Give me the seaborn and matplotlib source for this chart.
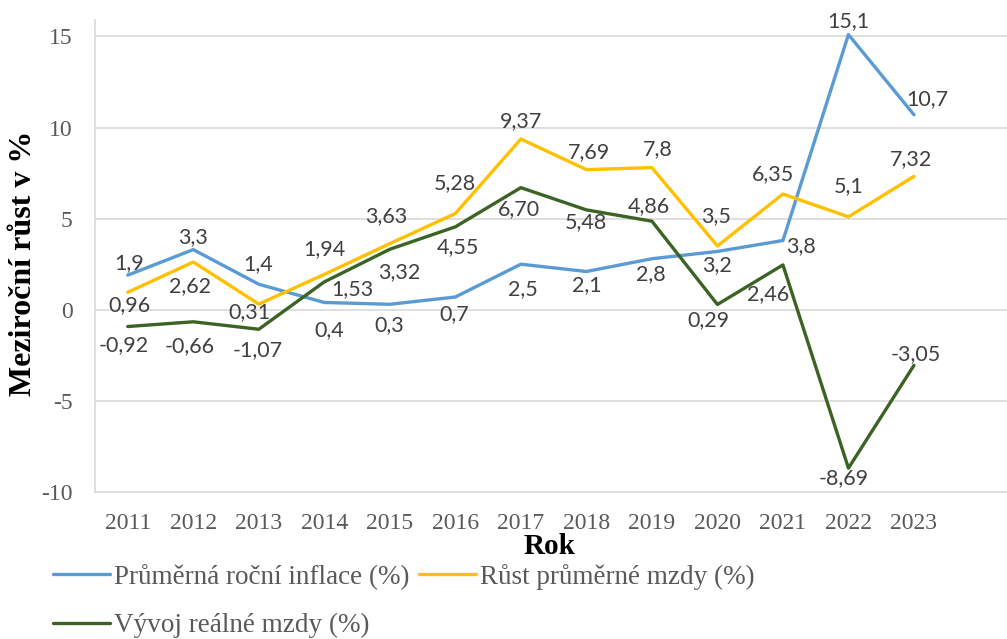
import matplotlib
matplotlib.use("Agg")
import matplotlib.pyplot as plt
import seaborn as sns

# data
years = [2011, 2012, 2013, 2014, 2015, 2016, 2017, 2018, 2019, 2020, 2021, 2022, 2023]
inflace = [1.9, 3.3, 1.4, 0.4, 0.3, 0.7, 2.5, 2.1, 2.8, 3.2, 3.8, 15.1, 10.7]
rust_mzdy = [0.96, 2.62, 0.31, 1.94, 3.63, 5.28, 9.37, 7.69, 7.8, 3.5, 6.35, 5.1, 7.32]
realna_mzda = [-0.92, -0.66, -1.07, 1.53, 3.32, 4.55, 6.70, 5.48, 4.86, 0.29, 2.46, -8.69, -3.05]

inflace_lbl = ["1,9", "3,3", "1,4", "0,4", "0,3", "0,7", "2,5", "2,1", "2,8", "3,2", "3,8", "15,1", "10,7"]
rust_lbl = ["0,96", "2,62", "0,31", "1,94", "3,63", "5,28", "9,37", "7,69", "7,8", "3,5", "6,35", "5,1", "7,32"]
realna_lbl = ["-0,92", "-0,66", "-1,07", "1,53", "3,32", "4,55", "6,70", "5,48", "4,86", "0,29", "2,46", "-8,69", "-3,05"]

series_names = ["Průměrná roční inflace (%)", "Růst průměrné mzdy (%)", "Vývoj reálné mzdy (%)"]
y_ticks = [-10, -5, 0, 5, 10, 15]

# label offsets in pixels (dx right, dy down) - placed by eye like the original
off_inflace = [(1, -12), (0, -13), (-1, -20), (5, 28), (-1, 21), (-1, 17), (2, 25),
               (0, 14), (-1, 15), (0, 14), (18, 6), (0, -13), (13, -16)]
off_rust = [(2, 13), (-3, 24), (-9, 8), (0, -25), (-4, -28), (-1, -30), (0, -18),
            (3, -18), (6, -19), (-1, -30), (-10, -20), (0, -31), (-3, -17)]
off_realna = [(-4, 19), (-4, 24), (-1, 21), (28, 7), (9, 23), (3, 20), (-2, 21),
              (0, 12), (-3, -15), (-9, 16), (-15, 29), (-5, 10), (2, -11)]

colors = ["#5B9BD5", "#FFC000", "#3B6324"]

sns.set_style("white")
plt.rcParams["font.family"] = ["Liberation Serif", "DejaVu Serif"]
plt.rcParams["axes.unicode_minus"] = False

fig = plt.figure(figsize=(10.07, 6.39), dpi=100)
ax = fig.add_axes([95 / 1007, 1 - 492 / 639, 1 - 95 / 1007, (492 - 20) / 639])

lines = []
for vals, col, name in zip([inflace, rust_mzdy, realna_mzda], colors, series_names):
    sns.lineplot(x=years, y=vals, color=col, linewidth=2.4, label=name, ax=ax)
    lines.append(ax.get_lines()[-1])

for vals, lbls, offs in [(inflace, inflace_lbl, off_inflace),
                         (rust_mzdy, rust_lbl, off_rust),
                         (realna_mzda, realna_lbl, off_realna)]:
    for yr, v, t, (dx, dy) in zip(years, vals, lbls, offs):
        ax.annotate(t, (yr, v), xytext=(dx, -dy), textcoords="offset pixels",
                    ha="center", va="center", fontsize=15.5, color="#404040",
                    family=["Lato", "DejaVu Sans"])

ax.set_xlim(2010.5, 2024.42)
ax.set_ylim(-10, 15.9)
ax.set_yticks(y_ticks)
ax.set_xticks(years)
ax.set_xticklabels([str(y) for y in years])
ax.grid(axis="y", color="#D9D9D9", linewidth=1.2)
ax.grid(axis="x", visible=False)
for s in ["top", "right"]:
    ax.spines[s].set_visible(False)
ax.spines["left"].set_color("#D9D9D9")
ax.spines["bottom"].set_color("#D9D9D9")
ax.spines["left"].set_linewidth(1.2)
ax.spines["bottom"].set_linewidth(1.2)
ax.tick_params(axis="both", length=0, labelsize=17, labelcolor="#595959")
ax.tick_params(axis="x", pad=15)
ax.tick_params(axis="y", pad=16)

ax.set_xlabel("")
ax.set_ylabel("")
fig.text(24 / 1007, 1 - 263 / 639, "Meziroční růst v %", rotation=90, ha="center", va="center",
         fontsize=23, fontweight="bold", color="black")
fig.text(550 / 1007, 1 - 546 / 639, "Rok", ha="center", va="center",
         fontsize=21, fontweight="bold", color="black")

ax.get_legend().remove()
leg = fig.legend([lines[0], lines[2], lines[1]],
                 [series_names[0], series_names[2], series_names[1]],
                 ncol=2, loc="upper left", bbox_to_anchor=(53 / 1007, 1 - 564 / 639),
                 frameon=False, fontsize=19.5, handlelength=2.1, handletextpad=0.15,
                 columnspacing=0.35, labelspacing=0.85, borderpad=0, borderaxespad=0)
for t in leg.get_texts():
    t.set_color("#595959")

fig.savefig("out.png", dpi=100)
